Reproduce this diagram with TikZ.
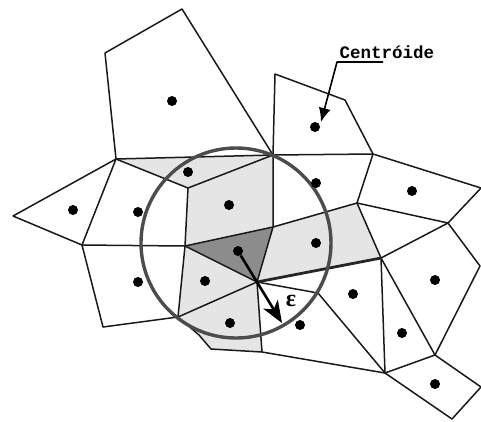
\documentclass[tikz,border=0pt]{standalone}
\usepackage{fontspec}
\setmonofont{Liberation Mono}
\newfontfamily\grkfont{Liberation Serif}
\usetikzlibrary{arrows.meta}
\begin{document}
\begin{tikzpicture}[x=1pt,y=-1pt,
  edge/.style={line width=1.5pt, draw=black!90, line join=round},
  thickedge/.style={line width=2.8pt, draw=black!85, line cap=round},
  lite/.style={fill=black!10},
  dark/.style={fill=black!45},
  ctr/.style={circle, fill=black, inner sep=0pt, minimum size=10pt},
  ring/.style={circle, draw=black!70, line width=3.4pt, inner sep=0pt, minimum size=190pt},
  lblstyle/.style={font=\ttfamily\bfseries\fontsize{17.5}{17.5}\selectfont, inner sep=0pt},
  epsstyle/.style={font=\grkfont\bfseries\fontsize{24}{24}\selectfont, inner sep=0pt}]
\useasboundingbox (0,0) rectangle (481,421);
% vertices
\coordinate (P1) at (105,53);
\coordinate (P2) at (182,9);
\coordinate (A) at (116,159);
\coordinate (B) at (273,155);
\coordinate (Q1) at (275,74);
\coordinate (Q2) at (345,100);
\coordinate (C) at (373,154);
\coordinate (R1) at (481,188);
\coordinate (S) at (448,223);
\coordinate (D) at (357,203);
\coordinate (F) at (480,266);
\coordinate (E) at (381,258);
\coordinate (T) at (435,355);
\coordinate (U) at (385,373);
\coordinate (V) at (481,387);
\coordinate (W) at (452,419);
\coordinate (G) at (257,282);
\coordinate (H) at (318,293);
\coordinate (X) at (262,352);
\coordinate (J) at (273,227);
\coordinate (I) at (185,246);
\coordinate (K) at (188,188);
\coordinate (L) at (178,317);
\coordinate (Y1) at (199,335);
\coordinate (Y2) at (211,349);
\coordinate (M) at (82,245);
\coordinate (N) at (103,327);
\coordinate (O) at (13,216);
% fills
\fill[lite] (A)--(B)--(K)--cycle;
\fill[lite] (K)--(B)--(J)--(I)--cycle;
\fill[lite] (J)--(D)--(E)--(G)--cycle;
\fill[lite] (I)--(G)--(L)--cycle;
\fill[lite] (L)--(G)--(X)--(Y2)--(Y1)--cycle;
\fill[dark] (I)--(J)--(G)--cycle;
% edges
\draw[edge] (A)--(P1)--(P2)--(B);
\draw[edge] (A)--(B)--(C);
\draw[edge] (B)--(Q1)--(Q2)--(C)--(R1)--(S)--(F)--(T)--(V)--(W)--(U);
\draw[edge] (C)--(D)--(S);
\draw[edge] (D)--(J);
\draw[edge] (D)--(E);
\draw[edge] (B)--(J)--(G);
\draw[edge] (A)--(K)--(B);
\draw[edge] (K)--(I)--(J);
\draw[edge] (A)--(O)--(M)--cycle;
\draw[edge] (M)--(I)--(G);
\draw[edge] (I)--(L)--(G);
\draw[edge] (M)--(N)--(L)--(Y1)--(Y2)--(X)--(U)--(T)--(E)--(S);
\draw[edge] (E)--(U)--(H)--(G)--(X);
\draw[thickedge] (G)--(E);
% circle
\node[ring] (circ) at (236,243) {};
% centroids
\node[ctr] (d1) at (172,101) {};
\node[ctr] (d2) at (315,127) {};
\node[ctr] (d3) at (188,172) {};
\node[ctr] (d4) at (316,183) {};
\node[ctr] (d5) at (412,191) {};
\node[ctr] (d6) at (73,210) {};
\node[ctr] (d7) at (138,212) {};
\node[ctr] (d8) at (229,205) {};
\node[ctr] (d9) at (316,243) {};
\node[ctr] (d10) at (238,251) {};
\node[ctr] (d11) at (435,280) {};
\node[ctr] (d12) at (138,282) {};
\node[ctr] (d13) at (205,281) {};
\node[ctr] (d14) at (353,294) {};
\node[ctr] (d15) at (230,323) {};
\node[ctr] (d16) at (300,325) {};
\node[ctr] (d17) at (402,333) {};
\node[ctr] (d18) at (435,384) {};
% label Centroide
\node[lblstyle] (lbl) at (387,52) {Centróide};
\coordinate (u1) at (383,62);
\coordinate (u2) at (337,62);
\coordinate (tipC) at (321,122);
\draw[line width=1.6pt, line join=round, -{Latex[length=14pt,width=12pt]}] (u1)--(u2)--(tipC);
% epsilon arrow
\coordinate (tipE) at (282,323);
\draw[line width=2.6pt, -{Stealth[length=22pt,width=17pt,inset=6pt]}] (d10)--(tipE);
\node[epsstyle] (epslbl) at (291,301) {ε};
\end{tikzpicture}
\end{document}
